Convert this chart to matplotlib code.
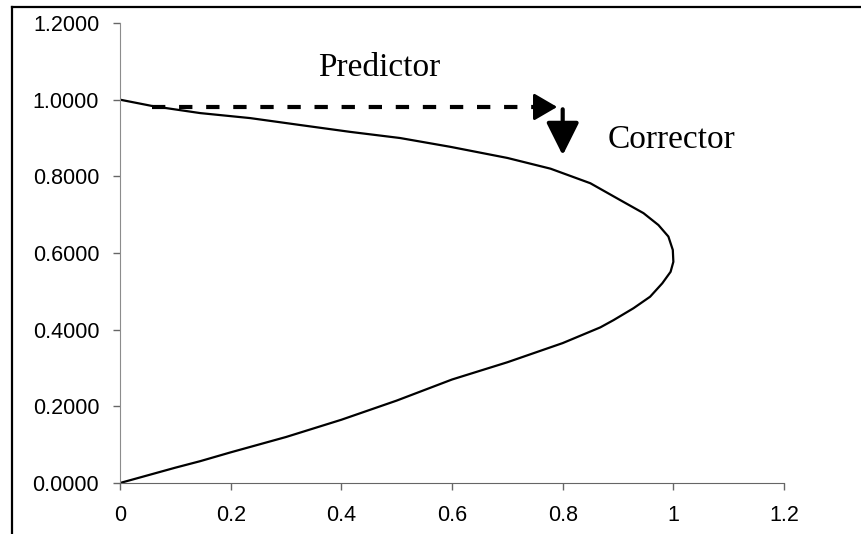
import matplotlib.pyplot as plt
from matplotlib.lines import Line2D

# curve traced along its length, from the origin round the nose back to (0, 1)
curve_x = [0.0, 0.05, 0.1, 0.145, 0.2, 0.3, 0.4, 0.5, 0.6, 0.7, 0.8, 0.868, 0.892,
           0.928, 0.958, 0.980, 0.995, 1.0, 0.999, 0.991, 0.973, 0.946, 0.904, 0.85,
           0.778, 0.7, 0.597, 0.506, 0.416, 0.325, 0.235, 0.145, 0.06, 0.0]
curve_y = [0.0, 0.02, 0.04, 0.057, 0.08, 0.12, 0.165, 0.215, 0.27, 0.315, 0.365, 0.406, 0.425,
           0.456, 0.486, 0.521, 0.551, 0.577, 0.608, 0.643, 0.673, 0.704, 0.738, 0.782,
           0.82, 0.848, 0.877, 0.9, 0.916, 0.934, 0.952, 0.965, 0.983, 1.0]

x_ticks = [0, 0.2, 0.4, 0.6, 0.8, 1, 1.2]
x_labels = ['0', '0.2', '0.4', '0.6', '0.8', '1', '1.2']
y_ticks = [0.0, 0.2, 0.4, 0.6, 0.8, 1.0, 1.2]
y_labels = ['%.4f' % v for v in y_ticks]

# predictor / corrector step
pred_start = (0.058, 0.981)
pred_end = (0.79, 0.981)
corr_start = (0.8, 0.975)
corr_end = (0.8, 0.855)

fig = plt.figure(figsize=(8.61, 5.34), dpi=100)
ax = fig.add_axes([0.1394, 0.0955, 0.7712, 0.8614])

ax.plot(curve_x, curve_y, color='black', lw=1.6)

# dashed predictor line with a solid head
ax.plot([pred_start[0], pred_end[0] - 0.03], [pred_start[1], pred_end[1]],
        color='black', lw=3, dashes=(3.2, 3.3))
ax.annotate('', xy=pred_end, xytext=(pred_end[0] - 0.04, pred_end[1]),
            arrowprops=dict(arrowstyle='-|>,head_length=0.72,head_width=0.42',
                            color='black', lw=2, mutation_scale=20,
                            shrinkA=0, shrinkB=0))
ax.annotate('', xy=corr_end, xytext=corr_start,
            arrowprops=dict(arrowstyle='-|>,head_length=1.0,head_width=0.5',
                            color='black', lw=3, mutation_scale=20,
                            shrinkA=0, shrinkB=0))

ax.text(0.468, 1.083, 'Predictor', family='Liberation Serif', fontsize=24,
        ha='center', va='center')
ax.text(0.881, 0.895, 'Corrector', family='Liberation Serif', fontsize=24,
        ha='left', va='center')

ax.set_xlim(0, 1.2)
ax.set_ylim(0, 1.2)
ax.set_xticks(x_ticks)
ax.set_xticklabels(x_labels)
ax.set_yticks(y_ticks)
ax.set_yticklabels(y_labels)
for lab in ax.get_xticklabels() + ax.get_yticklabels():
    lab.set_family('Liberation Sans')
    lab.set_fontsize(15.5)
ax.tick_params(axis='x', length=5, width=1, color='0.4', pad=11)
ax.tick_params(axis='y', length=5, width=1, color='0.4', pad=10)

ax.spines['top'].set_visible(False)
ax.spines['right'].set_visible(False)
ax.spines['left'].set_color('0.55')
ax.spines['left'].set_linestyle((0, (2, 1)))
ax.spines['bottom'].set_color('0.4')

# chart frame, top and left edges
fig.add_artist(Line2D([12 / 861, 1], [1 - 7 / 534, 1 - 7 / 534], color='black', lw=1.6))
fig.add_artist(Line2D([12 / 861, 12 / 861], [0, 1 - 7 / 534], color='black', lw=1.6))

fig.savefig('out.png', dpi=100)
